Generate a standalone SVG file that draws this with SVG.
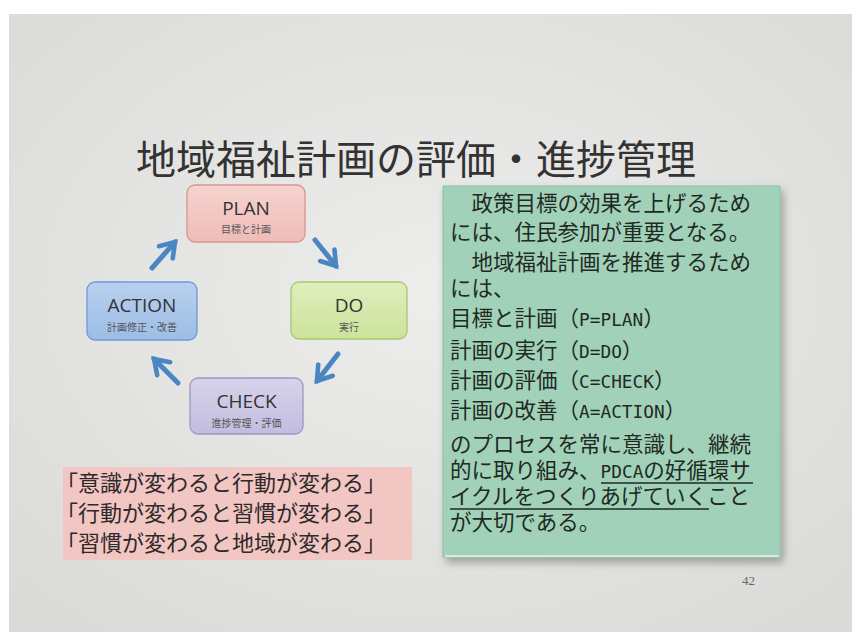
<svg xmlns="http://www.w3.org/2000/svg" width="863" height="637" viewBox="0 0 863 637">
<defs>
<radialGradient id="bg" cx="50%" cy="45%" r="70%">
<stop offset="0" stop-color="#ededeb"/>
<stop offset="1" stop-color="#dadbd8"/>
</radialGradient>
<linearGradient id="gplan" x1="0" y1="0" x2="0" y2="1"><stop offset="0" stop-color="#f6d3cf"/><stop offset="1" stop-color="#efbcb7"/></linearGradient>
<linearGradient id="gdo" x1="0" y1="0" x2="0" y2="1"><stop offset="0" stop-color="#dfeebc"/><stop offset="1" stop-color="#cde39b"/></linearGradient>
<linearGradient id="gact" x1="0" y1="0" x2="0" y2="1"><stop offset="0" stop-color="#b8d0ee"/><stop offset="1" stop-color="#9dbde6"/></linearGradient>
<linearGradient id="gchk" x1="0" y1="0" x2="0" y2="1"><stop offset="0" stop-color="#d6d3ea"/><stop offset="1" stop-color="#c2bddf"/></linearGradient>
<filter id="sh" x="-10%" y="-10%" width="125%" height="125%">
<feDropShadow dx="3" dy="5" stdDeviation="4" flood-color="#000" flood-opacity="0.3"/>
</filter>
<marker id="ah" viewBox="0 0 10 10" refX="7" refY="5" markerWidth="4.6" markerHeight="4.6" orient="auto" markerUnits="strokeWidth">
<path d="M1,1 L7,5 L1,9" fill="none" stroke="#4a86c4" stroke-width="2" stroke-linecap="round" stroke-linejoin="miter"/>
</marker>
<style>
.box{stroke-width:1.3}
.lab{font-family:"Open Sans","Noto Sans",sans-serif;font-size:19px;fill:#333;text-anchor:middle}
.sub{font-family:"Noto Sans CJK JP",sans-serif;font-size:10px;fill:#555;text-anchor:middle}
.gt{font-family:"Noto Sans CJK JP",sans-serif;font-size:21.5px;fill:#1e2a22}
.mono{font-family:"DejaVu Sans Mono",monospace;font-size:17.8px}
.rt{font-family:"Noto Sans CJK JP",sans-serif;font-size:22px;fill:#2e2a2a}
.arr{stroke:#4a86c4;stroke-width:5;fill:none;stroke-linecap:round;marker-end:url(#ah)}
</style>
</defs>
<rect width="863" height="637" fill="#ffffff"/>
<rect x="9" y="14" width="843" height="618" fill="url(#bg)"/>

<text id="title" x="136" y="174" font-family="Noto Sans CJK JP, sans-serif" font-size="40" fill="#333">地域福祉計画の評価・進捗管理</text>

<g id="connectors">
<path class="arr" d="M315,240 L336,266"/>
<path class="arr" d="M338,354 L317,381"/>
<path class="arr" d="M178,383 L154,359"/>
<path class="arr" d="M152,268 L175,242"/>
</g>

<g id="plan">
<rect class="box" x="187" y="185" width="118" height="57" rx="8" fill="url(#gplan)" stroke="#d99590"/>
<text class="lab" x="246" y="215">PLAN</text>
<text class="sub" x="246" y="233">目標と計画</text>
</g>
<g id="do">
<rect class="box" x="291" y="282" width="116" height="57" rx="8" fill="url(#gdo)" stroke="#a9c66e"/>
<text class="lab" x="349" y="312">DO</text>
<text class="sub" x="349" y="331">実行</text>
</g>
<g id="action">
<rect class="box" x="87" y="282" width="110" height="58" rx="8" fill="url(#gact)" stroke="#6f9bd3"/>
<text class="lab" x="142" y="312">ACTION</text>
<text class="sub" x="142" y="331">計画修正・改善</text>
</g>
<g id="check">
<rect class="box" x="190" y="378" width="113" height="56" rx="8" fill="url(#gchk)" stroke="#9d95c8"/>
<text class="lab" x="246.5" y="408">CHECK</text>
<text class="sub" x="246.5" y="427">進捗管理・評価</text>
</g>

<g id="quote">
<rect x="63" y="467" width="349" height="93" fill="#f2c6c2"/>
<text class="rt" x="56" y="491">「意識が変わると行動が変わる」</text>
<text class="rt" x="56" y="521">「行動が変わると習慣が変わる」</text>
<text class="rt" x="56" y="551">「習慣が変わると地域が変わる」</text>
</g>

<g id="explain">
<rect x="443" y="186" width="337" height="371" fill="#a2d1ba" stroke="#8cc2a8" stroke-width="1" filter="url(#sh)"/>
<line x1="445" y1="556" x2="779" y2="556" stroke="#d4eadf" stroke-width="2"/>
<text class="gt" x="450" y="211">　政策目標の効果を上げるため</text>
<text class="gt" x="450" y="240">には、住民参加が重要となる。</text>
<text class="gt" x="450" y="270">　地域福祉計画を推進するため</text>
<text class="gt" x="450" y="296">には、</text>
<text class="gt" x="450" y="326">目標と計画（<tspan class="mono">P=PLAN</tspan>）</text>
<text class="gt" x="450" y="358">計画の実行（<tspan class="mono">D=DO</tspan>）</text>
<text class="gt" x="450" y="388">計画の評価（<tspan class="mono">C=CHECK</tspan>）</text>
<text class="gt" x="450" y="418">計画の改善（<tspan class="mono">A=ACTION</tspan>）</text>
<text class="gt" x="450" y="452">のプロセスを常に意識し、継続</text>
<text class="gt" x="450" y="478">的に取り組み、<tspan class="mono">PDCA</tspan>の好循環サ</text>
<text class="gt" x="450" y="504">イクルをつくりあげていくこと</text>
<text class="gt" x="450" y="530">が大切である。</text>
<line x1="601" y1="483" x2="753" y2="483" stroke="#1e2a22" stroke-width="1.5"/>
<line x1="450" y1="509" x2="709" y2="509" stroke="#1e2a22" stroke-width="1.5"/>
</g>

<text id="page" x="742" y="585" font-family="Liberation Serif, serif" font-size="13" fill="#666">42</text>
</svg>
